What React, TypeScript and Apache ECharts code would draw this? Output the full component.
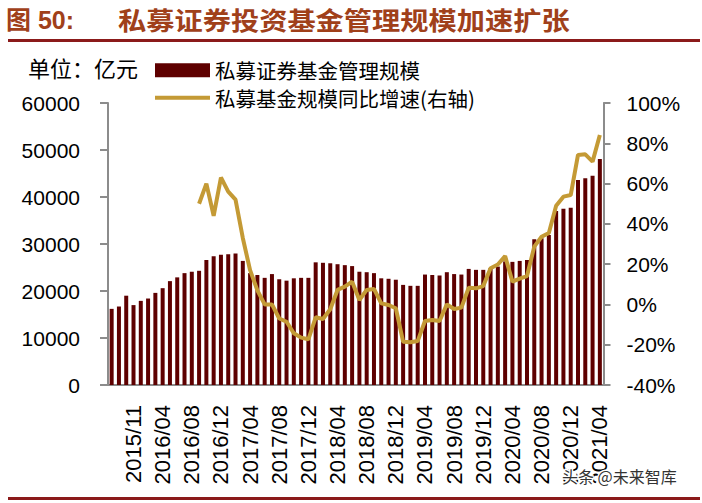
import React, { useEffect, useRef } from "react";
import * as echarts from "echarts";

const categories = [
  "2015/08", "2015/09", "2015/10", "2015/11", "2015/12",
  "2016/02", "2016/03", "2016/04", "2016/05", "2016/06", "2016/07", "2016/08", "2016/09", "2016/10", "2016/11", "2016/12",
  "2017/01", "2017/02", "2017/03", "2017/04", "2017/05", "2017/06", "2017/07", "2017/08", "2017/09", "2017/10", "2017/11", "2017/12",
  "2018/01", "2018/02", "2018/03", "2018/04", "2018/05", "2018/06", "2018/07", "2018/08", "2018/09", "2018/10", "2018/11", "2018/12",
  "2019/01", "2019/02", "2019/03", "2019/04", "2019/05", "2019/06", "2019/07", "2019/08", "2019/09", "2019/10", "2019/11", "2019/12",
  "2020/01", "2020/02", "2020/03", "2020/04", "2020/05", "2020/06", "2020/07", "2020/08", "2020/09", "2020/10", "2020/11", "2020/12",
  "2021/01", "2021/02", "2021/03", "2021/04",
];

// 私募证券基金管理规模 (亿元)
const scaleValues = [
  16200, 16700, 19000, 17000, 17900, 18400, 19600, 20600, 22100, 22900, 23800, 24100,
  24300, 26600, 27400, 27700, 27800, 28000, 26400, 23800, 23400, 22800, 23600, 22500,
  22200, 22700, 22800, 22800, 26100, 26000, 25900, 25700, 25500, 25300, 24100, 24000,
  23800, 22700, 22600, 22400, 21300, 21100, 21100, 23500, 23400, 23300, 24000, 23600,
  23500, 24700, 24500, 24500, 24900, 25200, 26300, 26200, 26400, 26600, 31000, 31200,
  31900, 37000, 37500, 37700, 43600, 44000, 44500, 48100,
];

// 私募基金规模同比增速 (%, 右轴)
const growthValues: (number | null)[] = [
  null, null, null, null, null, null, null, null, null, null, null, null,
  50, 60, 44, 63, 56, 52, 33, 17, 7, 0, 0, -7,
  -8.6, -14.3, -16.5, -17.3, -6.4, -7.2, -2.4, 7.2, 8.8, 11.3, 2.2, 7.2,
  7.7, 0.5, -0.3, -1.9, -18.5, -18.8, -18.2, -8.2, -7.7, -8.2, 0, -2.3,
  -1.6, 8.3, 8.0, 9.1, 18, 19.8, 24, 11.3, 12.8, 14.1, 28.7, 33.6,
  35.5, 49, 53.5, 54.3, 74.2, 74.5, 70.9, 84.1,
];

const barName = "私募证券基金管理规模";
const lineName = "私募基金规模同比增速(右轴)";

const numFont = "'Liberation Sans', Arial, 'Noto Sans CJK SC', sans-serif";
const cjkFont = "'Noto Sans CJK SC', 'Liberation Sans', sans-serif";
const titleColor = "#A0401A";
const ruleColor = "#8B1A1A";
const barColor = "#5E0000";
const lineColor = "#C49A35";
const axisColor = "#8C8C8C";

export default function App() {
  const ref = useRef<HTMLDivElement>(null);
  useEffect(() => {
    document.body.style.margin = "0";
    const chart = echarts.init(ref.current!, null, { renderer: "svg" });
    chart.setOption({
      animation: false,
      backgroundColor: "#fff",
      grid: { left: 108, right: 98.5, top: 103, bottom: 118, containLabel: false },
      legend: {
        orient: "vertical",
        left: 150,
        top: 55,
        itemGap: 7,
        itemWidth: 55,
        itemHeight: 14,
        symbolKeepAspect: true,
        textStyle: { fontFamily: cjkFont, fontSize: 20.5, color: "#000", lineHeight: 20 },
        data: [
          { name: barName, icon: "rect" },
          { name: lineName, icon: "path://M0,0L55,0L55,4L0,4Z", itemStyle: { color: lineColor } },
        ],
      },
      xAxis: {
        type: "category",
        data: categories,
        boundaryGap: true,
        axisLine: { lineStyle: { color: axisColor, width: 2 } },
        axisTick: { show: false },
        axisLabel: {
          rotate: 90,
          interval: (index: number) => index % 4 === 3,
          margin: 20,
          fontFamily: numFont,
          fontSize: 22,
          color: "#000",
        },
      },
      yAxis: [
        {
          type: "value",
          min: 0,
          max: 60000,
          interval: 10000,
          position: "left",
          axisLine: { show: true, lineStyle: { color: axisColor, width: 2 } },
          axisTick: { show: true, length: 8, lineStyle: { color: axisColor, width: 2 } },
          splitLine: { show: false },
          axisLabel: {
            margin: 28,
            fontFamily: numFont,
            fontSize: 21,
            color: "#000",
            formatter: (v: number) => String(v),
          },
        },
        {
          type: "value",
          min: -40,
          max: 100,
          interval: 20,
          position: "right",
          axisLine: { show: true, lineStyle: { color: axisColor, width: 2 } },
          axisTick: { show: true, length: 7, lineStyle: { color: axisColor, width: 2 } },
          splitLine: { show: false },
          axisLabel: {
            margin: 23,
            fontFamily: numFont,
            fontSize: 21,
            color: "#000",
            formatter: "{value}%",
          },
        },
      ],
      series: [
        {
          name: barName,
          type: "bar",
          data: scaleValues,
          barWidth: 4,
          itemStyle: { color: barColor },
          yAxisIndex: 0,
        },
        {
          name: lineName,
          type: "line",
          data: growthValues,
          yAxisIndex: 1,
          symbol: "none",
          connectNulls: false,
          lineStyle: { color: lineColor, width: 4 },
          itemStyle: { color: lineColor },
          z: 5,
        },
      ],
      graphic: [
        {
          type: "text",
          left: 6,
          top: 7,
          style: {
            text: "图 50:",
            fontFamily: numFont,
            fontWeight: "bold",
            fontSize: 25,
            fill: titleColor,
          },
        },
        {
          type: "text",
          x: 118,
          y: 7,
          scaleX: 1.13,
          style: {
            text: "私募证券投资基金管理规模加速扩张",
            fontFamily: cjkFont,
            fontWeight: "bold",
            fontSize: 25,
            fill: titleColor,
          },
        },
        {
          type: "rect",
          shape: { x: 8, y: 39, width: 692, height: 3 },
          style: { fill: ruleColor },
        },
        {
          type: "rect",
          shape: { x: 8, y: 497, width: 692, height: 3 },
          style: { fill: ruleColor },
        },
        {
          type: "text",
          x: 28,
          y: 56,
          style: {
            text: "单位：亿元",
            fontFamily: cjkFont,
            fontSize: 22,
            fill: "#000",
          },
        },
        {
          type: "text",
          x: 562,
          y: 468,
          z: 10,
          style: {
            text: "头条 @未来智库",
            fontFamily: cjkFont,
            fontSize: 16,
            fill: "#333",
            stroke: "#fff",
            lineWidth: 3,
          },
        },
      ],
    });
    return () => chart.dispose();
  }, []);
  return <div ref={ref} style={{ width: 702, height: 503 }} />;
}
